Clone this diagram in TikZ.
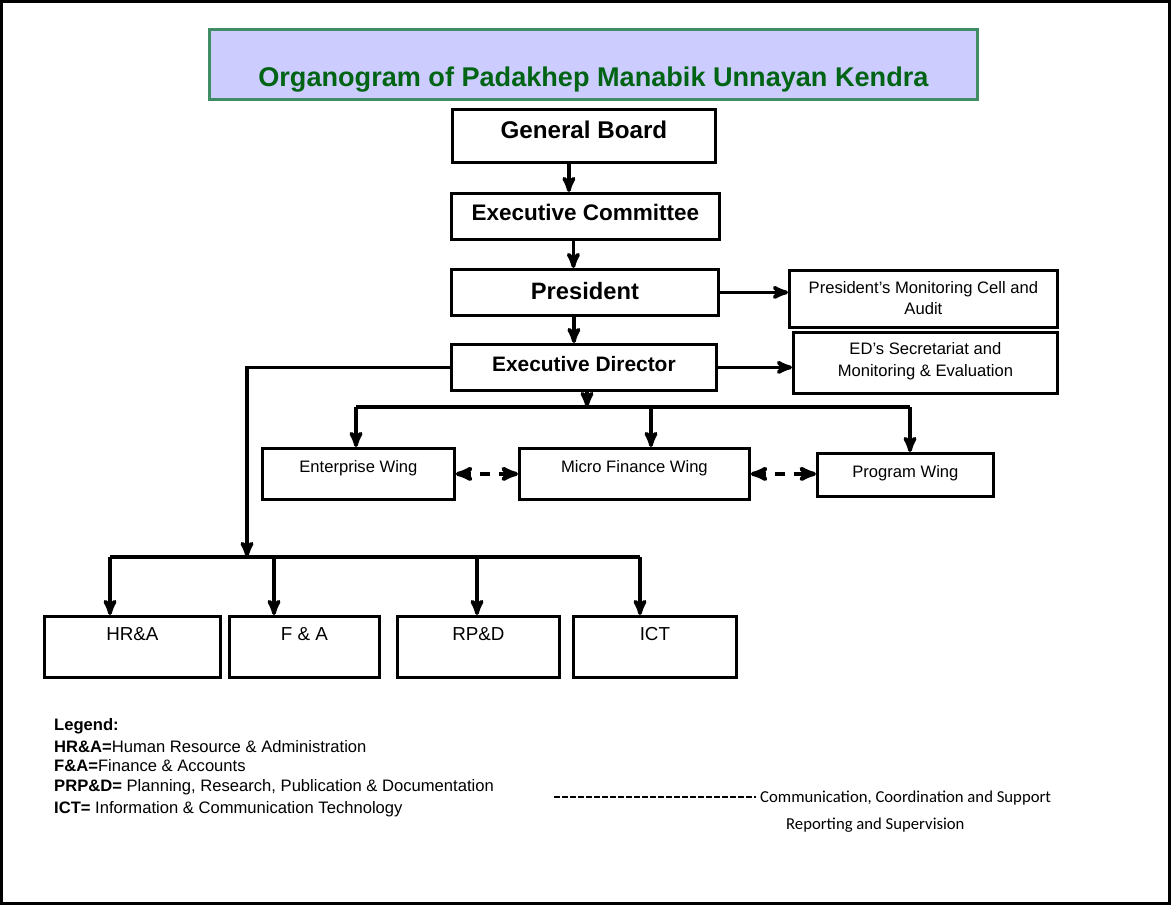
\documentclass[tikz,border=0pt]{standalone}
\usepackage{fontspec}
\setmainfont{Liberation Sans}
\newfontfamily\calfont{Carlito}
\usetikzlibrary{calc}
\usetikzlibrary{arrows}

\definecolor{titlefill}{RGB}{204,204,255}
\definecolor{titleline}{RGB}{64,140,100}
\definecolor{titletext}{RGB}{0,100,20}

\tikzset{
  orgbox/.style={draw, line width=2.8pt, anchor=north west, inner sep=0pt, align=center},
  link/.style={line width=3.8pt, ->, >=stealth'},
  coop/.style={line width=4.2pt, <->, >=stealth', dash pattern=on 10pt off 9pt},
  legend/.style={anchor=base west, inner sep=0pt, font=\fontsize{16.6}{19}\selectfont},
}

\begin{document}
\begin{tikzpicture}[x=1pt, y=-1pt]
\useasboundingbox (0,0) rectangle (1174,905);
\draw[line width=3pt] (1.5,1.5) rectangle (1169.5,903.5);

\node[orgbox, fill=titlefill, draw=titleline, minimum width=768pt, text height=57pt, text depth=13pt, text=titletext, font=\fontsize{27.1}{31}\selectfont\bfseries] (title) at (208,28) {Organogram of Padakhep Manabik Unnayan Kendra};

% top chain
\node[orgbox, minimum width=263pt, text height=29pt, text depth=24pt, font=\fontsize{24.2}{28}\selectfont\bfseries] (gb) at (451,108) {General Board};
\node[orgbox, minimum width=268pt, text height=27pt, text depth=19pt, font=\fontsize{22.5}{26}\selectfont\bfseries] (ec) at (450,192) {Executive Committee};
\node[orgbox, minimum width=267pt, text height=30pt, text depth=16pt, font=\fontsize{23.7}{27}\selectfont\bfseries] (pres) at (450,268) {President};
\node[orgbox, minimum width=265pt, text height=27pt, text depth=19pt, font=\fontsize{20.9}{24}\selectfont\bfseries] (ed) at (450,343) {Executive Director};
\node[orgbox, minimum width=268pt, text height=44pt, text depth=13pt, font=\fontsize{16.6}{21}\selectfont] (pmca) at (788,269) {President's Monitoring Cell and\\Audit};
\node[orgbox, minimum width=264pt, text height=44pt, text depth=17pt, font=\fontsize{16.6}{22}\selectfont] (eds) at (792,331) {ED's Secretariat and\\Monitoring \& Evaluation};

% wings
\node[orgbox, minimum width=192pt, text height=24pt, text depth=27pt, font=\fontsize{16.6}{20}\selectfont] (ent) at (261,447) {Enterprise Wing};
\node[orgbox, minimum width=230pt, text height=24pt, text depth=27pt, font=\fontsize{16.6}{20}\selectfont] (mfw) at (518,447) {Micro Finance Wing};
\node[orgbox, minimum width=176pt, text height=24pt, text depth=19pt, font=\fontsize{16.6}{20}\selectfont] (prog) at (816,452) {Program Wing};

% sections
\node[orgbox, minimum width=176pt, text height=24pt, text depth=37pt, font=\fontsize{18.8}{22}\selectfont] (hra) at (43,615) {HR\&A};
\node[orgbox, minimum width=150pt, text height=24pt, text depth=37pt, font=\fontsize{18.8}{22}\selectfont] (fa) at (228,615) {F \& A};
\node[orgbox, minimum width=162pt, text height=24pt, text depth=37pt, font=\fontsize{18.8}{22}\selectfont] (rpd) at (396,615) {RP\&D};
\node[orgbox, minimum width=163pt, text height=24pt, text depth=37pt, font=\fontsize{18.8}{22}\selectfont] (ict) at (572,615) {ICT};

\draw[link] ([xshift=-15pt]gb.south) -- ([xshift=-15pt]gb.south |- ec.north);
\draw[link] ([xshift=-12pt]ec.south) -- ([xshift=-12pt]ec.south |- pres.north);
\draw[link] ([xshift=-11pt]pres.south) -- ([xshift=-11pt]pres.south |- ed.north);
\draw[link] (pres.east) -- (pres.east -| pmca.west);
\draw[link] (ed.east) -- (ed.east -| eds.west);

\coordinate (wbus) at (587,407);
\coordinate (wl) at (356,407);
\coordinate (wm) at (651,407);
\coordinate (wr) at (910,407);
\draw[link] (wbus |- ed.south) -- (wbus);
\draw[line width=3.8pt] (wl) -- (wr);
\draw[link] (wl) -- (wl |- ent.north);
\draw[link] (wm) -- (wm |- mfw.north);
\draw[link] (wr) -- (wr |- prog.north);

\coordinate (sbus) at (247,557);
\draw[link] (ed.west) -| (sbus);
\draw[line width=3.8pt] (110,557) -- (640,557);
\draw[link] (110,557) -- (110,557 |- hra.north);
\draw[link] (274,557) -- (274,557 |- fa.north);
\draw[link] (477,557) -- (477,557 |- rpd.north);
\draw[link] (640,557) -- (640,557 |- ict.north);

\draw[coop] (ent.east) -- (mfw.west);
\draw[coop] (mfw.east) -- (mfw.east -| prog.west);

% legend
\node[legend, font=\fontsize{16.6}{19}\selectfont\bfseries] (lgtitle) at (54,730) {Legend:};
\node[legend] (lghra) at (54,752) {\textbf{HR\&A=}Human Resource \& Administration};
\node[legend] (lgfa) at (54,771) {\textbf{F\&A=}Finance \& Accounts};
\node[legend] (lgprpd) at (54,791) {\textbf{PRP\&D=} Planning, Research, Publication \& Documentation};
\node[legend] (lgict) at (54,813) {\textbf{ICT=} Information \& Communication Technology};

\node[legend, font=\calfont\fontsize{16.7}{19}\selectfont] (comm) at (760,802) {Communication, Coordination and Support};
\node[legend, font=\calfont\fontsize{16.7}{19}\selectfont] (rep) at (786,829) {Reporting and Supervision};
\coordinate (dashstart) at (554,797);
\draw[line width=2pt, dash pattern=on 5.5pt off 2.5pt] (dashstart) -- ([xshift=-4pt]dashstart -| comm.west);

\end{tikzpicture}
\end{document}
